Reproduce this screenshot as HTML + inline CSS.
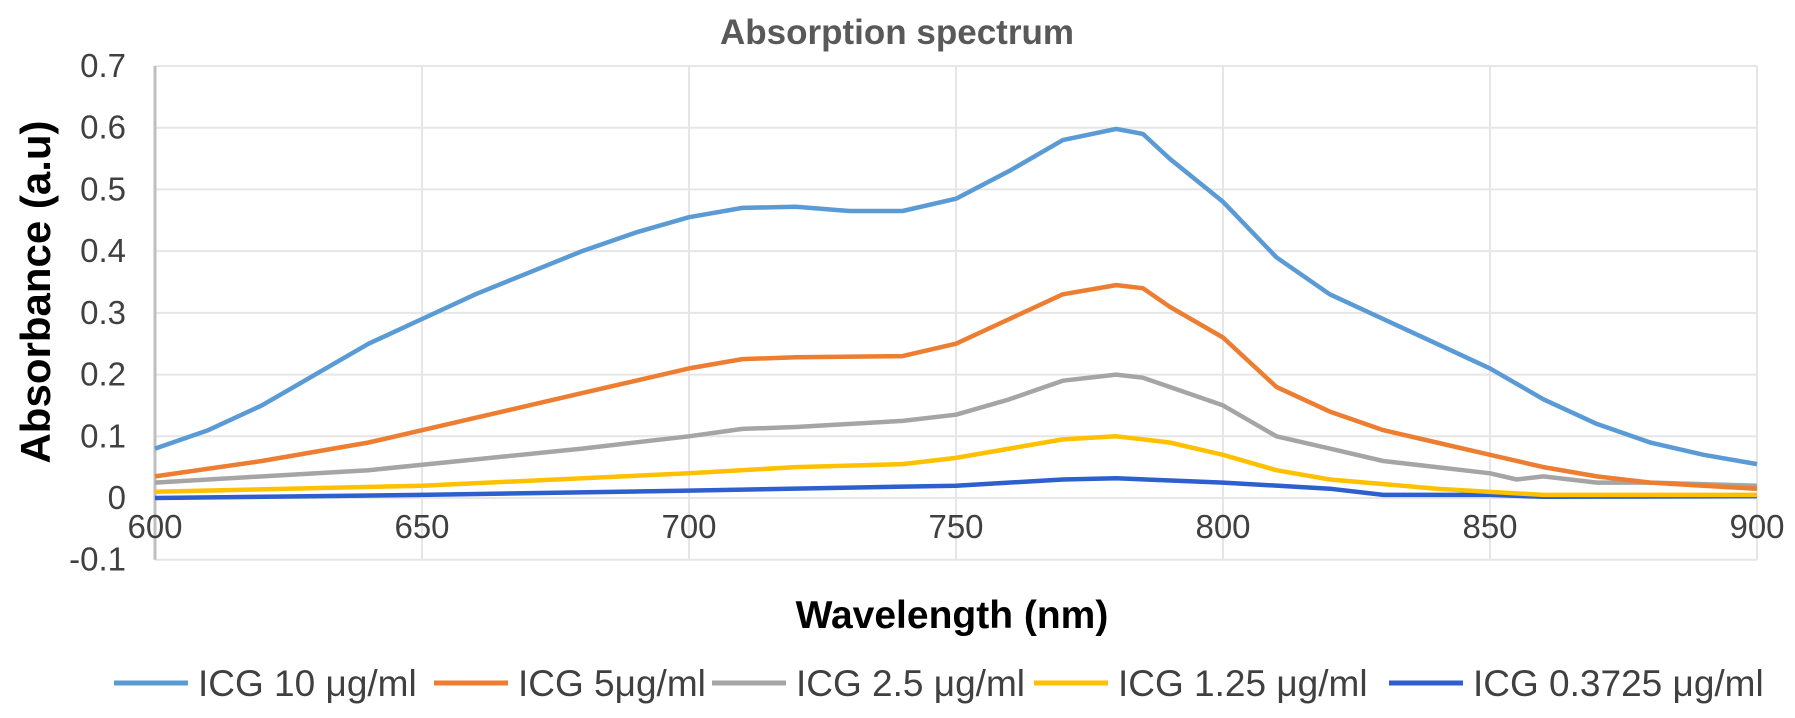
<!DOCTYPE html>
<html><head><meta charset="utf-8"><style>
body{margin:0;background:#fff;}
svg{display:block;font-family:"Liberation Sans",sans-serif;}
</style></head><body>
<svg id="chart" width="1795" height="718" viewBox="0 0 1795 718">
<text x="897" y="44" text-anchor="middle" font-size="35" font-weight="bold" fill="#595959">Absorption spectrum</text>
<g id="grid"></g>
<g id="yticks"></g>
<g id="xticks"></g>
<g id="series"></g>
<text transform="translate(50,292) rotate(-90)" text-anchor="middle" font-size="42" font-weight="bold" fill="#000">Absorbance (a.u)</text>
<text x="952" y="628" text-anchor="middle" font-size="39" font-weight="bold" fill="#000">Wavelength (nm)</text>
<g id="legend"></g>
</svg>
<script>
const yTicks=[0.7,0.6,0.5,0.4,0.3,0.2,0.1,0,-0.1];
const yTickLabels=["0.7","0.6","0.5","0.4","0.3","0.2","0.1","0","-0.1"];
const xTicks=[600,650,700,750,800,850,900];
const seriesNames=["ICG 10 μg/ml","ICG 5μg/ml","ICG 2.5 μg/ml","ICG 1.25 μg/ml","ICG 0.3725 μg/ml"];
const s10x=[600,610,620,630,640,650,660,670,680,690,700,710,720,730,740,750,760,770,780,785,790,800,810,820,830,840,850,860,870,880,890,900];
const s10y=[0.08,0.11,0.15,0.2,0.25,0.29,0.33,0.365,0.4,0.43,0.455,0.47,0.472,0.465,0.465,0.485,0.53,0.58,0.598,0.59,0.55,0.48,0.39,0.33,0.29,0.25,0.21,0.16,0.12,0.09,0.07,0.055];
const s5x=[600,620,640,660,680,700,710,720,740,750,760,770,780,785,790,800,810,820,830,840,850,860,870,880,890,900];
const s5y=[0.035,0.06,0.09,0.13,0.17,0.21,0.225,0.228,0.23,0.25,0.29,0.33,0.345,0.34,0.31,0.26,0.18,0.14,0.11,0.09,0.07,0.05,0.035,0.025,0.02,0.015];
const s25x=[600,640,680,700,710,720,740,750,760,770,780,785,790,800,810,820,830,840,850,855,860,870,880,900];
const s25y=[0.025,0.045,0.08,0.1,0.112,0.115,0.125,0.135,0.16,0.19,0.2,0.195,0.18,0.15,0.1,0.08,0.06,0.05,0.04,0.03,0.035,0.025,0.025,0.02];
const s125x=[600,650,700,720,740,750,760,770,780,790,800,810,820,840,860,900];
const s125y=[0.01,0.02,0.04,0.05,0.055,0.065,0.08,0.095,0.1,0.09,0.07,0.045,0.03,0.015,0.005,0.005];
const s037x=[600,650,700,750,770,780,800,820,830,850,860,900];
const s037y=[0,0.005,0.012,0.02,0.03,0.032,0.025,0.015,0.005,0.005,0.002,0.003];
const colors=["#5b9bd5","#ed7d31","#a5a5a5","#ffc000","#2e5fce"];
const NS="http://www.w3.org/2000/svg";
const X=v=>155+(v-600)*(1757-155)/300;
const Y=v=>498-v*(432/0.7);
function mk(t,a,p){const e=document.createElementNS(NS,t);for(const k in a)e.setAttribute(k,a[k]);p.appendChild(e);return e;}
const grid=document.getElementById('grid');
yTicks.forEach((v,i)=>{const l=mk('line',{x1:155,x2:1757,y1:Y(v),y2:Y(v),stroke:'#e6e6e6','stroke-width':2},grid);


const t=mk('text',{x:126,y:Y(v)+11,'text-anchor':'end','font-size':33,fill:'#404040'},document.getElementById('yticks'));t.textContent=yTickLabels[i];

});
xTicks.forEach(v=>{if(v>600){const l=mk('line',{x1:X(v),x2:X(v),y1:Y(0.7),y2:Y(-0.1),stroke:'#e6e6e6','stroke-width':2},grid);

}
const t=mk('text',{x:X(v),y:538,'text-anchor':'middle','font-size':33,fill:'#404040'},document.getElementById('xticks'));t.textContent=v;

});
const ax=mk('line',{x1:155,x2:155,y1:Y(0.7),y2:Y(-0.1),stroke:'#bfbfbf','stroke-width':3},grid);


const sx=[s10x,s5x,s25x,s125x,s037x],sy=[s10y,s5y,s25y,s125y,s037y];
const sg=document.getElementById('series');
for(let i=4;i>=0;i--){const d=sx[i].map((x,j)=>(j?'L':'M')+X(x).toFixed(1)+' '+Y(sy[i][j]).toFixed(1)).join(' ');
const p=mk('path',{d:d,fill:'none',stroke:colors[i],'stroke-width':4.5,'stroke-linejoin':'round'},sg);

}
const lx=[114,434,712,1034,1389],lg=document.getElementById('legend');
seriesNames.forEach((n,i)=>{const g=mk('g',{},lg);


mk('line',{x1:lx[i],x2:lx[i]+74,y1:683,y2:683,stroke:colors[i],'stroke-width':5},g);
const t=mk('text',{x:lx[i]+84,y:696,'font-size':37,fill:'#404040'},g);t.textContent=n;});
</script>
</body></html>
